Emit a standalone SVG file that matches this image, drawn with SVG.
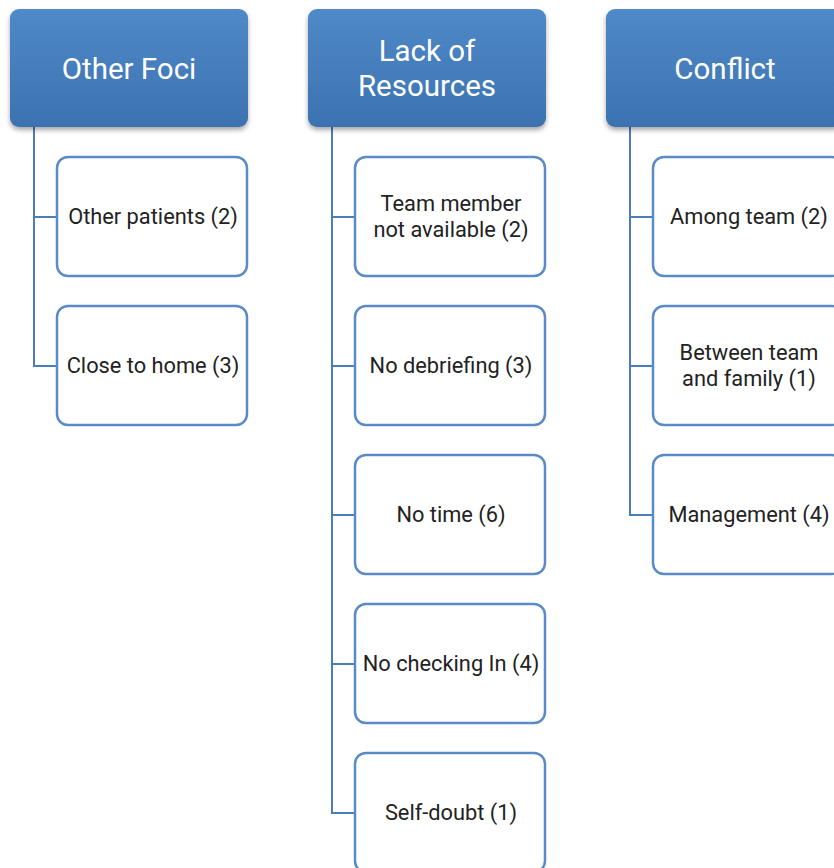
<svg xmlns="http://www.w3.org/2000/svg" width="834" height="868" viewBox="0 0 834 868">
  <defs>
    <linearGradient id="headFill" x1="0" y1="0" x2="0" y2="1">
      <stop offset="0" stop-color="#4F89C8"/>
      <stop offset="1" stop-color="#3C72B0"/>
    </linearGradient>
    <filter id="shadow" x="-10%" y="-10%" width="120%" height="130%">
      <feGaussianBlur in="SourceAlpha" stdDeviation="2.5"/>
      <feOffset dx="0" dy="3" result="b"/>
      <feComponentTransfer><feFuncA type="linear" slope="0.35"/></feComponentTransfer>
      <feMerge><feMergeNode/><feMergeNode in="SourceGraphic"/></feMerge>
    </filter>
    <style>
      .head rect { fill: url(#headFill); filter: url(#shadow); }
      .head text { fill: #FFFFFF; font-family: Roboto, "Liberation Sans", sans-serif; font-size: 29.5px; text-anchor: middle; }
      .child rect { fill: #FFFFFF; stroke: #5A8BC6; stroke-width: 2.5; }
      .child text { fill: #222222; font-family: Roboto, "Liberation Sans", sans-serif; font-size: 21.8px; text-anchor: middle; }
      .conn path { fill: none; stroke: #4A7DBA; stroke-width: 2; }
    </style>
  </defs>
  <rect width="834" height="868" fill="#FFFFFF"/>

  <g class="conn" id="connectors">
    <path d="M34,127 V366 H57 M34,217 H57"/>
    <path d="M332,127 V813 H355 M332,217 H355 M332,366 H355 M332,515 H355 M332,664 H355"/>
    <path d="M630,127 V515 H653 M630,217 H653 M630,366 H653"/>
  </g>

  <g class="head" id="other-foci">
    <rect x="10" y="9" width="238" height="118" rx="9"/>
    <text x="129" y="79">Other Foci</text>
  </g>
  <g class="head" id="lack-of-resources">
    <rect x="308" y="9" width="238" height="118" rx="9"/>
    <text x="427" y="61">Lack of</text>
    <text x="427" y="96">Resources</text>
  </g>
  <g class="head" id="conflict">
    <rect x="606" y="9" width="238" height="118" rx="9"/>
    <text x="725" y="79">Conflict</text>
  </g>

  <g class="child" id="other-patients">
    <rect x="57" y="157" width="190" height="119" rx="11"/>
    <text x="153" y="224">Other patients (2)</text>
  </g>
  <g class="child" id="close-to-home">
    <rect x="57" y="306" width="190" height="119" rx="11"/>
    <text x="153" y="373">Close to home (3)</text>
  </g>

  <g class="child" id="team-member">
    <rect x="355" y="157" width="190" height="119" rx="11"/>
    <text x="451" y="211">Team member</text>
    <text x="451" y="237">not available (2)</text>
  </g>
  <g class="child" id="no-debriefing">
    <rect x="355" y="306" width="190" height="119" rx="11"/>
    <text x="451" y="373">No debriefing (3)</text>
  </g>
  <g class="child" id="no-time">
    <rect x="355" y="455" width="190" height="119" rx="11"/>
    <text x="451" y="522">No time (6)</text>
  </g>
  <g class="child" id="no-checking-in">
    <rect x="355" y="604" width="190" height="119" rx="11"/>
    <text x="451" y="671">No checking In (4)</text>
  </g>
  <g class="child" id="self-doubt">
    <rect x="355" y="753" width="190" height="119" rx="11"/>
    <text x="451" y="820">Self-doubt (1)</text>
  </g>

  <g class="child" id="among-team">
    <rect x="653" y="157" width="190" height="119" rx="11"/>
    <text x="749" y="224">Among team (2)</text>
  </g>
  <g class="child" id="between-team-family">
    <rect x="653" y="306" width="190" height="119" rx="11"/>
    <text x="749" y="360">Between team</text>
    <text x="749" y="386">and family (1)</text>
  </g>
  <g class="child" id="management">
    <rect x="653" y="455" width="190" height="119" rx="11"/>
    <text x="749" y="522">Management (4)</text>
  </g>
</svg>
